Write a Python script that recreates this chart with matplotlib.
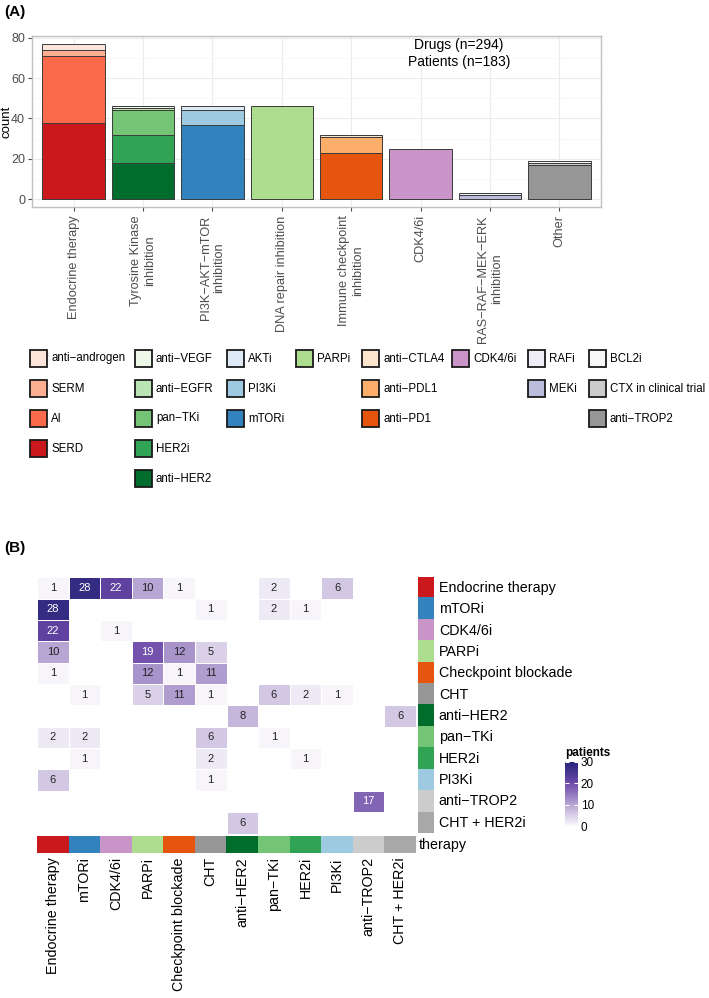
""" Drug classes bar chart (A) and co-treatment heatmap (B) """

import numpy as np
import matplotlib
matplotlib.use("Agg")
import matplotlib.pyplot as plt
from matplotlib.patches import Rectangle
from matplotlib.colors import LinearSegmentedColormap, ListedColormap

plt.rcParams['font.family'] = ['Liberation Sans', 'DejaVu Sans']

# ---- panel A data ----
categories = ["Endocrine therapy", "Tyrosine Kinase\ninhibition",
              "PI3K\u2212AKT\u2212mTOR\ninhibition", "DNA repair inhibition",
              "Immune checkpoint\ninhibition", "CDK4/6i",
              "RAS\u2212RAF\u2212MEK\u2212ERK\ninhibition", "Other"]

endo_drugs = ["anti\u2212androgen", "SERM", "AI", "SERD"]
endo_n = [3, 3, 33, 38]
endo_col = ["#fee5d9", "#fcae91", "#fb6a4a", "#cb181d"]

tki_drugs = ["anti\u2212VEGF", "anti\u2212EGFR", "pan\u2212TKi", "HER2i", "anti\u2212HER2"]
tki_n = [1, 1, 12, 14, 18]
tki_col = ["#edf8e9", "#bae4b3", "#74c476", "#31a354", "#006d2c"]

pi3k_drugs = ["AKTi", "PI3Ki", "mTORi"]
pi3k_n = [2, 7, 37]
pi3k_col = ["#deebf7", "#9ecae1", "#3182bd"]

dna_drugs = ["PARPi"]
dna_n = [46]
dna_col = ["#addd8e"]

icb_drugs = ["anti\u2212CTLA4", "anti\u2212PDL1", "anti\u2212PD1"]
icb_n = [1, 8, 23]
icb_col = ["#fee6ce", "#fdae6b", "#e6550d"]

cdk_drugs = ["CDK4/6i"]
cdk_n = [25]
cdk_col = ["#c994c7"]

ras_drugs = ["RAFi", "MEKi"]
ras_n = [1, 2]
ras_col = ["#efedf5", "#bcbddc"]

oth_drugs = ["BCL2i", "CTX in clinical trial", "anti\u2212TROP2"]
oth_n = [1, 1, 17]
oth_col = ["#f7f7f7", "#cccccc", "#969696"]

groups = [(endo_drugs, endo_n, endo_col), (tki_drugs, tki_n, tki_col),
          (pi3k_drugs, pi3k_n, pi3k_col), (dna_drugs, dna_n, dna_col),
          (icb_drugs, icb_n, icb_col), (cdk_drugs, cdk_n, cdk_col),
          (ras_drugs, ras_n, ras_col), (oth_drugs, oth_n, oth_col)]
n_patients = 183

# ---- panel B data ----
hm_labels = ["Endocrine therapy", "mTORi", "CDK4/6i", "PARPi", "Checkpoint blockade",
             "CHT", "anti\u2212HER2", "pan\u2212TKi", "HER2i", "PI3Ki", "anti\u2212TROP2",
             "CHT + HER2i"]
hm_colors = ["#cb181d", "#3182bd", "#c994c7", "#addd8e", "#e6550d", "#969696",
             "#006d2c", "#74c476", "#31a354", "#9ecae1", "#cccccc", "#a8a8a8"]
_ = np.nan
patients = [
    [1, 28, 22, 10, 1, _, _, 2, _, 6, _, _],
    [28, _, _, _, _, 1, _, 2, 1, _, _, _],
    [22, _, 1, _, _, _, _, _, _, _, _, _],
    [10, _, _, 19, 12, 5, _, _, _, _, _, _],
    [1, _, _, 12, 1, 11, _, _, _, _, _, _],
    [_, 1, _, 5, 11, 1, _, 6, 2, 1, _, _],
    [_, _, _, _, _, _, 8, _, _, _, _, 6],
    [2, 2, _, _, _, 6, _, 1, _, _, _, _],
    [_, 1, _, _, _, 2, _, _, 1, _, _, _],
    [6, _, _, _, _, 1, _, _, _, _, _, _],
    [_, _, _, _, _, _, _, _, _, _, 17, _],
    [_, _, _, _, _, _, 6, _, _, _, _, _],
]

W, H = 709, 998
fig = plt.figure(figsize=(W / 100, H / 100), dpi=100)


def rect(l, t, r, b):
    return [l / W, 1 - b / H, (r - l) / W, (b - t) / H]


# overlay in pixel coords for panel letters and legend
ov = fig.add_axes([0, 0, 1, 1])
ov.set_xlim(0, W)
ov.set_ylim(H, 0)
ov.axis('off')
ov.text(4, 12, "(A)", fontsize=11, fontweight='bold', va='center')
ov.text(4, 548, "(B)", fontsize=11, fontweight='bold', va='center')

# ---- panel A ----
ax = fig.add_axes(rect(32, 36, 601, 207))
x = np.arange(1, len(categories) + 1)
for xi, (drugs, n, cols) in zip(x, groups):
    bottom = 0
    for d, v, c in reversed(list(zip(drugs, n, cols))):
        ax.bar(xi, v, bottom=bottom, width=0.9, color=c, edgecolor='#3a3a3a',
               linewidth=0.7, zorder=3)
        bottom += v
total = sum(sum(g[1]) for g in groups)
ax.set_xlim(0.4, 8.6)
ax.set_ylim(-3.85, 80.85)
ax.set_yticks([0, 20, 40, 60, 80])
ax.set_yticks([10, 30, 50, 70], minor=True)
ax.set_xticks(x)
ax.set_xticklabels(categories, rotation=90, ha='center', va='top',
                   multialignment='center', fontsize=9.2, color='#4d4d4d')
ax.tick_params(axis='y', labelsize=9, labelcolor='#4d4d4d', length=3,
               color='#4d4d4d', pad=2)
ax.tick_params(axis='y', which='minor', length=0)
ax.tick_params(axis='x', length=3, color='#4d4d4d', pad=3)
ax.grid(True, which='major', color='#ebebeb', lw=0.8, zorder=0)
ax.grid(True, which='minor', axis='y', color='#f4f4f4', lw=0.5, zorder=0)
for s in ax.spines.values():
    s.set_color('#c0c0c0')
    s.set_linewidth(1.0)
ax.set_ylabel("count", fontsize=9.5)
ax.yaxis.set_label_coords((13 - 32) / 569, 0.5)
ax.text(6.55, 72, "Drugs (n=%d)\nPatients (n=%d)" % (total, n_patients),
        ha='center', va='center', fontsize=10, linespacing=1.25)

# legend, one column per drug class
leg_x = [30, 135, 227, 296, 362, 452, 528, 589]
for lx, (drugs, n, cols) in zip(leg_x, groups):
    for i, (d, c) in enumerate(zip(drugs, cols)):
        ty = 350 + i * 30
        ov.add_patch(Rectangle((lx, ty), 17, 17, facecolor=c, edgecolor='#1a1a1a',
                               lw=1.3))
        ov.text(lx + 21, ty + 8.5, d, fontsize=8.3, va='center', ha='left')

# ---- panel B ----
cmap = LinearSegmentedColormap.from_list(
    "pat", [(0, "#ffffff"), (2 / 30, "#eeeaf5"), (10 / 30, "#b7a5d3"),
            (20 / 30, "#6d4aaa"), (1, "#252478")])
M = np.array(patients, dtype=float)
nr, nc = M.shape
rh = 21.35
hx0, hx1, hy0 = 37, 416, 577.3
hy1 = hy0 + nr * rh
axh = fig.add_axes(rect(hx0, hy0, hx1, hy1))
mesh = axh.pcolormesh(np.ma.masked_invalid(M), cmap=cmap, vmin=0, vmax=30,
                      edgecolors='white', linewidth=0.6)
axh.set_xlim(0, nc)
axh.set_ylim(nr, 0)
axh.axis('off')
for r in range(nr):
    for c in range(nc):
        v = M[r, c]
        if not np.isnan(v):
            axh.text(c + 0.5, r + 0.5, "%d" % v, ha='center', va='center',
                     fontsize=8, color='white' if v >= 15 else '#222222')

# row annotation
axr = fig.add_axes(rect(418, hy0, 434, hy1))
axr.imshow(np.arange(nr).reshape(-1, 1), cmap=ListedColormap(hm_colors),
           aspect='auto', interpolation='nearest', extent=(0, 1, nr, 0))
axr.axis('off')
for r, lab in enumerate(hm_labels):
    axr.text(1.3, r + 0.5, lab, fontsize=10.3, va='center', ha='left',
             clip_on=False)

# column annotation (therapy)
axb = fig.add_axes(rect(hx0, hy1 + 2.5, hx1, hy1 + 19.5))
axb.imshow(np.arange(nc).reshape(1, -1), cmap=ListedColormap(hm_colors),
           aspect='auto', interpolation='nearest', extent=(0, nc, 1, 0))
axb.axis('off')
axb.text(nc + 0.1, 0.5, "therapy", fontsize=10.3, va='center', ha='left', clip_on=False)
for c, lab in enumerate(hm_labels):
    axb.text(c + 0.5, 1.25, lab, rotation=90, ha='center', va='top', fontsize=10.3,
             clip_on=False)

# colour bar
cb_zero = hy0 + 11.68 * rh
cb_px = 2.17
cax = fig.add_axes(rect(565, cb_zero - 31 * cb_px, 578, cb_zero))
cb = fig.colorbar(mesh, cax=cax, ticks=[0, 10, 20, 30])
cb.outline.set_visible(False)
cax.set_ylim(0, 31)
cax.tick_params(length=3, color='white', direction='in', labelsize=8.5, pad=2,
                left=True, right=True)
cax.text(0, 1.01, "patients", fontsize=8.5, fontweight='bold', ha='left',
         va='bottom', transform=cax.transAxes)

fig.savefig("out.png", dpi=100)
